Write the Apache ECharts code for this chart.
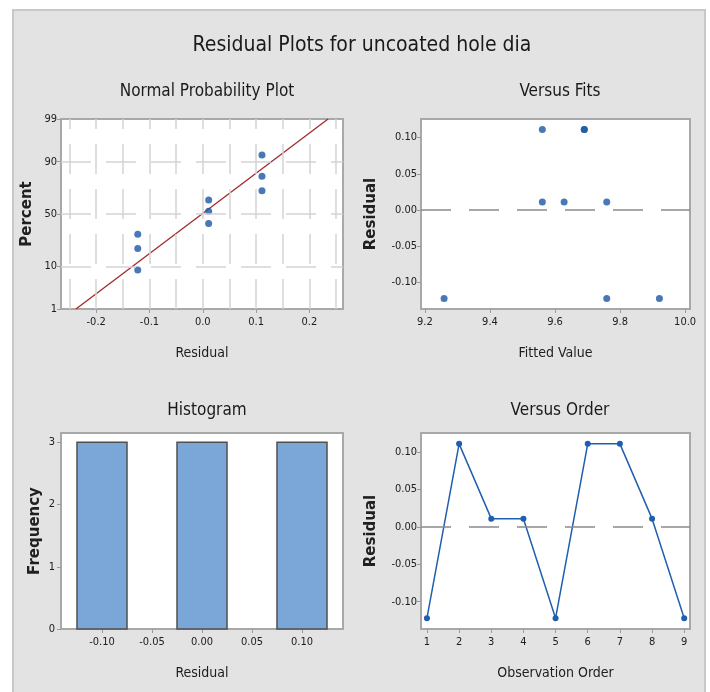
<!DOCTYPE html>
<html><head><meta charset="utf-8">
<script src="https://cdn.jsdelivr.net/npm/echarts@6/dist/echarts.min.js"></script>
<style>html,body{margin:0;padding:0;background:#fff}#c{width:710px;height:692px}</style>
</head><body><div id="c"></div>
<script>
// ---------- data ----------
const chartTitle = 'Residual Plots for uncoated hole dia';
const panelTitles = ['Normal Probability Plot', 'Versus Fits', 'Histogram', 'Versus Order'];
// Normal probability plot
const nppResidual = [-0.122, -0.122, -0.122, 0.011, 0.011, 0.011, 0.111, 0.111, 0.111];
const nppPercent = [8.5, 19.9, 30.9, 40.7, 52.6, 63.5, 71.6, 82.3, 92.6];
const fitLineResidual = [-0.238, 0.235];
const fitLinePercent = [1, 99];
const percentTicks = [1, 10, 50, 90, 99];
const percentGrid = [10, 50, 90];
const nppResidualTicks = [-0.2, -0.1, 0.0, 0.1, 0.2];
const nppResidualGrid = [-0.25, -0.2, -0.15, -0.1, -0.05, 0, 0.05, 0.1, 0.15, 0.2, 0.25];
// Versus fits
const fittedValues = [9.259, 9.561, 9.561, 9.628, 9.759, 9.690, 9.690, 9.759, 9.921];
const residuals = [-0.122, 0.111, 0.011, 0.011, -0.122, 0.111, 0.111, 0.011, -0.122];
const fittedTicks = [9.2, 9.4, 9.6, 9.8, 10.0];
const residualTicks = [-0.10, -0.05, 0.00, 0.05, 0.10];
// Histogram
const binCenters = [-0.10, 0.00, 0.10];
const binFrequency = [3, 3, 3];
const binWidth = 0.05;
const histResidualTicks = [-0.10, -0.05, 0.00, 0.05, 0.10];
const frequencyTicks = [0, 1, 2, 3];
// Versus order
const observationOrder = [1, 2, 3, 4, 5, 6, 7, 8, 9];

// ---------- helpers ----------
function probit(p) {
  const a = [-3.969683028665376e+01, 2.209460984245205e+02, -2.759285104469687e+02, 1.383577518672690e+02, -3.066479806614716e+01, 2.506628277459239e+00];
  const b = [-5.447609879822406e+01, 1.615858368580409e+02, -1.556989798598866e+02, 6.680131188771972e+01, -1.328068155288572e+01];
  const c = [-7.784894002430293e-03, -3.223964580411365e-01, -2.400758277161838e+00, -2.549732539343734e+00, 4.374664141464968e+00, 2.938163982698783e+00];
  const d = [7.784695709041462e-03, 3.224671290700398e-01, 2.445134137142996e+00, 3.754408661907416e+00];
  const pl = 0.02425, ph = 1 - pl;
  let q, r;
  if (p < pl) { q = Math.sqrt(-2 * Math.log(p)); return (((((c[0]*q+c[1])*q+c[2])*q+c[3])*q+c[4])*q+c[5]) / ((((d[0]*q+d[1])*q+d[2])*q+d[3])*q+1); }
  if (p > ph) { q = Math.sqrt(-2 * Math.log(1 - p)); return -(((((c[0]*q+c[1])*q+c[2])*q+c[3])*q+c[4])*q+c[5]) / ((((d[0]*q+d[1])*q+d[2])*q+d[3])*q+1); }
  q = p - 0.5; r = q * q;
  return (((((a[0]*r+a[1])*r+a[2])*r+a[3])*r+a[4])*r+a[5])*q / (((((b[0]*r+b[1])*r+b[2])*r+b[3])*r+b[4])*r+1);
}
const pz = p => probit(p / 100);

const NARROW = "'Liberation Sans Narrow', 'DejaVu Sans Condensed', 'Open Sans', sans-serif";
const WIDE = "'DejaVu Sans', 'Noto Sans', sans-serif";
const TXT = '#202020';

function axis(type, gi, min, max, ticks, fmt, name, nameGap, labelMargin) {
  const isX = type === 'x';
  return {
    type: 'value', gridIndex: gi, min, max,
    name, nameLocation: 'middle', nameGap,
    nameTextStyle: isX
      ? { fontFamily: NARROW, fontSize: 14, color: TXT }
      : { fontFamily: WIDE, fontSize: 15, fontWeight: 'bold', color: TXT },
    axisLine: { show: false, onZero: false },
    axisTick: { show: true, customValues: ticks, length: 4, lineStyle: { color: '#9a9a9a', width: 1 } },
    axisLabel: { customValues: ticks, formatter: fmt, fontFamily: NARROW, fontSize: 11, color: TXT, margin: labelMargin },
    splitLine: { show: false }
  };
}

const yNppTicks = percentTicks.map(pz);
const pctFmt = v => {
  let best = 0, bd = 1e9;
  yNppTicks.forEach((t, i) => { const dd = Math.abs(t - v); if (dd < bd) { bd = dd; best = i; } });
  return String(percentTicks[best]);
};

const gridLineStyle = { color: '#d4d4d4', width: 1.5, type: [30, 15] };
const zeroLineStyle = { color: '#8a8a8a', width: 1.5, type: [30, 18] };

const option = {
  backgroundColor: '#ffffff',
  animation: false,
  graphic: [
    { type: 'rect', z: -10, shape: { x: 13, y: 10, width: 692, height: 700 }, style: { fill: '#e3e3e3', stroke: '#c8c8c8', lineWidth: 2 } }
  ],
  title: [
    { text: chartTitle, left: 357, top: 30, textAlign: 'center', textStyle: { fontFamily: NARROW, fontSize: 21, fontWeight: 'normal', color: '#1a1a1a' } },
    { text: panelTitles[0], left: 202, top: 78, textAlign: 'center', textStyle: { fontFamily: NARROW, fontSize: 17, fontWeight: 'normal', color: '#1a1a1a' } },
    { text: panelTitles[1], left: 555, top: 78, textAlign: 'center', textStyle: { fontFamily: NARROW, fontSize: 17, fontWeight: 'normal', color: '#1a1a1a' } },
    { text: panelTitles[2], left: 202, top: 397, textAlign: 'center', textStyle: { fontFamily: NARROW, fontSize: 17, fontWeight: 'normal', color: '#1a1a1a' } },
    { text: panelTitles[3], left: 555, top: 397, textAlign: 'center', textStyle: { fontFamily: NARROW, fontSize: 17, fontWeight: 'normal', color: '#1a1a1a' } }
  ],
  grid: [
    { left: 61, top: 119, width: 282, height: 190, show: true, backgroundColor: '#fff', borderColor: '#a8a8a8', borderWidth: 2 },
    { left: 421, top: 119, width: 269, height: 190, show: true, backgroundColor: '#fff', borderColor: '#a8a8a8', borderWidth: 2 },
    { left: 61, top: 433, width: 282, height: 196, show: true, backgroundColor: '#fff', borderColor: '#a8a8a8', borderWidth: 2 },
    { left: 421, top: 433, width: 269, height: 196, show: true, backgroundColor: '#fff', borderColor: '#a8a8a8', borderWidth: 2 }
  ],
  xAxis: [
    axis('x', 0, -0.266, 0.263, nppResidualTicks, v => v.toFixed(1), 'Residual', 37, 8),
    axis('x', 1, 9.188, 10.015, fittedTicks, v => v.toFixed(1), 'Fitted Value', 37, 8),
    axis('x', 2, -0.141, 0.141, histResidualTicks, v => v.toFixed(2), 'Residual', 37, 8),
    axis('x', 3, 0.815, 9.18, observationOrder, v => String(Math.round(v)), 'Observation Order', 37, 8)
  ],
  yAxis: [
    axis('y', 0, pz(1), pz(99), yNppTicks, pctFmt, 'Percent', 26, 4),
    axis('y', 1, -0.1365, 0.1255, residualTicks, v => v.toFixed(2), 'Residual', 42, 4),
    axis('y', 2, 0, 3.15, frequencyTicks, v => String(Math.round(v)), 'Frequency', 18, 6),
    axis('y', 3, -0.1365, 0.1255, residualTicks, v => v.toFixed(2), 'Residual', 42, 4)
  ],
  series: [
    // NPP reference grid
    { type: 'scatter', xAxisIndex: 0, yAxisIndex: 0, data: [], z: 1, silent: true,
      markLine: { silent: true, symbol: 'none', label: { show: false }, lineStyle: gridLineStyle,
        data: nppResidualGrid.map(v => ({ xAxis: v })).concat(percentGrid.map(p => ({ yAxis: pz(p) }))) } },
    // NPP fitted line
    { type: 'line', xAxisIndex: 0, yAxisIndex: 0, z: 3, symbol: 'none', silent: true,
      lineStyle: { color: '#a3282c', width: 1.3 },
      data: fitLineResidual.map((r, i) => [r, pz(fitLinePercent[i])]) },
    // NPP points
    { type: 'scatter', xAxisIndex: 0, yAxisIndex: 0, z: 4, symbol: 'circle', symbolSize: 7,
      itemStyle: { color: '#1a58a4' },
      data: nppResidual.map((r, i) => [r, pz(nppPercent[i])]) },
    // Versus fits zero line
    { type: 'scatter', xAxisIndex: 1, yAxisIndex: 1, data: [], z: 1, silent: true,
      markLine: { silent: true, symbol: 'none', label: { show: false }, lineStyle: zeroLineStyle, data: [{ yAxis: 0 }] } },
    // Versus fits points
    { type: 'scatter', xAxisIndex: 1, yAxisIndex: 1, z: 4, symbol: 'circle', symbolSize: 7,
      itemStyle: { color: '#1a58a4' },
      data: fittedValues.map((f, i) => [f, residuals[i]]) },
    // Histogram
    { type: 'custom', xAxisIndex: 2, yAxisIndex: 2, z: 3,
      encode: { x: 0, y: 1 },
      data: binCenters.map((c, i) => [c, binFrequency[i]]),
      renderItem: (params, api) => {
        const c = api.value(0), h = api.value(1);
        const p0 = api.coord([c - binWidth / 2, h]);
        const p1 = api.coord([c + binWidth / 2, 0]);
        return { type: 'rect', shape: { x: p0[0], y: p0[1], width: p1[0] - p0[0], height: p1[1] - p0[1] },
          style: { fill: '#7ba6d8', stroke: '#505050', lineWidth: 1.5 } };
      } },
    // Versus order zero line
    { type: 'scatter', xAxisIndex: 3, yAxisIndex: 3, data: [], z: 1, silent: true,
      markLine: { silent: true, symbol: 'none', label: { show: false }, lineStyle: zeroLineStyle, data: [{ yAxis: 0 }] } },
    // Versus order line
    { type: 'line', xAxisIndex: 3, yAxisIndex: 3, z: 4, symbol: 'circle', symbolSize: 6, showAllSymbol: true,
      itemStyle: { color: '#1f5fae' }, lineStyle: { color: '#1f5fae', width: 1.5 },
      data: observationOrder.map((o, i) => [o, residuals[i]]) }
  ]
};

const chart = echarts.init(document.getElementById('c'), null, { renderer: 'canvas' });
chart.setOption(option);
</script>
</body></html>
